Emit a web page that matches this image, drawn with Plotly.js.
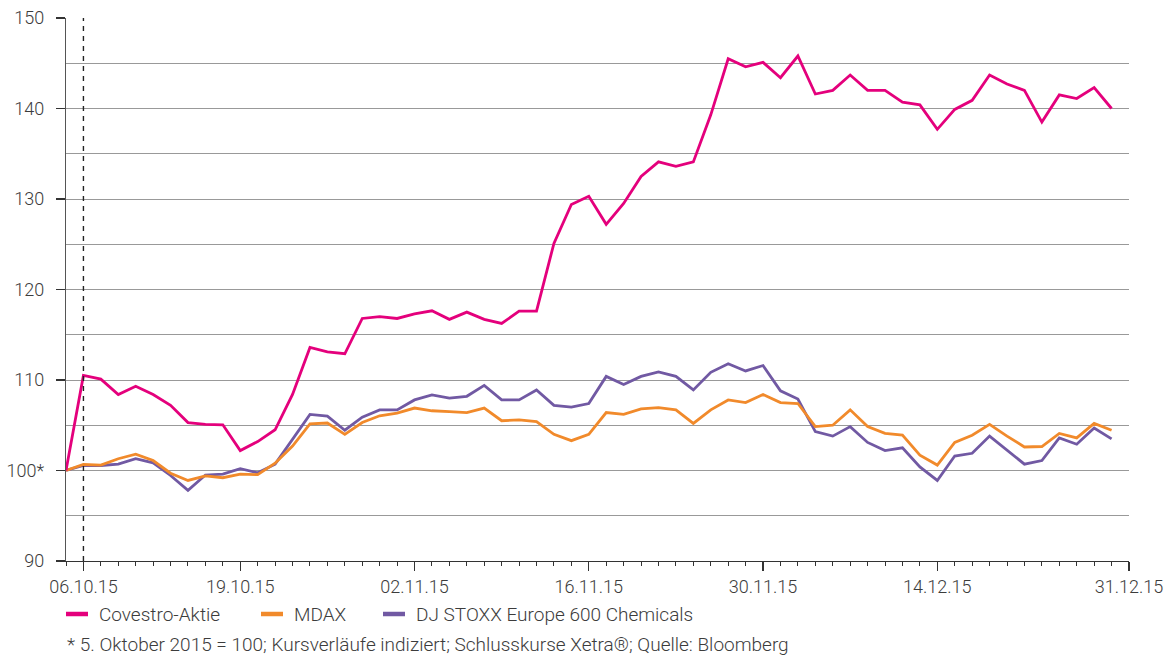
<!DOCTYPE html>
<html>
<head>
<meta charset="utf-8">
<script src="https://cdn.plot.ly/plotly-3.0.1.min.js"></script>
<style>
html,body{margin:0;padding:0;background:#fff;}
#chart{width:1167px;height:657px;}
</style>
</head>
<body>
<div id="chart"></div>
<script>
// Trading days (Xetra), 05.10.15 = 100; last category 31.12.15 has no quote
const dates = [
  '05.10.15','06.10.15','07.10.15','08.10.15','09.10.15','12.10.15','13.10.15','14.10.15','15.10.15','16.10.15',
  '19.10.15','20.10.15','21.10.15','22.10.15','23.10.15','26.10.15','27.10.15','28.10.15','29.10.15','30.10.15',
  '02.11.15','03.11.15','04.11.15','05.11.15','06.11.15','09.11.15','10.11.15','11.11.15','12.11.15','13.11.15',
  '16.11.15','17.11.15','18.11.15','19.11.15','20.11.15','23.11.15','24.11.15','25.11.15','26.11.15','27.11.15',
  '30.11.15','01.12.15','02.12.15','03.12.15','04.12.15','07.12.15','08.12.15','09.12.15','10.12.15','11.12.15',
  '14.12.15','15.12.15','16.12.15','17.12.15','18.12.15','21.12.15','22.12.15','23.12.15','28.12.15','29.12.15',
  '30.12.15','31.12.15'
];

const covestro = [
  100, 110.5, 110.1, 108.4, 109.3, 108.4, 107.2, 105.3, 105.1, 105.05,
  102.2, 103.2, 104.5, 108.4, 113.6, 113.1, 112.9, 116.8, 117.0, 116.8,
  117.3, 117.65, 116.7, 117.5, 116.7, 116.25, 117.6, 117.6, 125.1, 129.4,
  130.3, 127.2, 129.5, 132.5, 134.1, 133.6, 134.1, 139.3, 145.5, 144.6,
  145.1, 143.4, 145.8, 141.6, 142.0, 143.7, 142.0, 142.0, 140.7, 140.4,
  137.7, 139.9, 140.9, 143.7, 142.7, 142.0, 138.5, 141.5, 141.1, 142.3, 140.0
];

const mdax = [
  100, 100.66, 100.6, 101.3, 101.8, 101.1, 99.7, 98.9, 99.4, 99.2,
  99.6, 99.55, 100.8, 102.7, 105.15, 105.25, 104.0, 105.3, 106.05, 106.35,
  106.9, 106.6, 106.5, 106.4, 106.9, 105.5, 105.6, 105.4, 104.0, 103.3,
  104.0, 106.4, 106.2, 106.8, 106.95, 106.7, 105.2, 106.7, 107.8, 107.5,
  108.4, 107.5, 107.4, 104.85, 105.0, 106.7, 104.85, 104.1, 103.9, 101.7,
  100.6, 103.1, 103.9, 105.1, 103.8, 102.6, 102.65, 104.1, 103.6, 105.2, 104.45
];

const djStoxx = [
  100, 100.55, 100.55, 100.7, 101.3, 100.85, 99.45, 97.8, 99.5, 99.6,
  100.2, 99.75, 100.7, 103.4, 106.2, 106.0, 104.45, 105.9, 106.7, 106.7,
  107.8, 108.35, 108.0, 108.2, 109.4, 107.8, 107.8, 108.9, 107.2, 107.0,
  107.4, 110.4, 109.5, 110.4, 110.9, 110.4, 108.9, 110.85, 111.8, 111.0,
  111.6, 108.8, 107.9, 104.3, 103.8, 104.85, 103.1, 102.2, 102.5, 100.4,
  98.9, 101.6, 101.9, 103.8, 102.3, 100.7, 101.1, 103.6, 102.9, 104.7, 103.5
];

const xTickLabels = ['06.10.15','19.10.15','02.11.15','16.11.15','30.11.15','14.12.15','31.12.15'];
const yTickValues = [90, 100, 110, 120, 130, 140, 150];
const yTickLabels = ['90', '100*', '110', '120', '130', '140', '150'];
const seriesNames = ['Covestro-Aktie', 'MDAX', 'DJ STOXX Europe 600 Chemicals'];
const markerDate = '06.10.15';
const footnote = '* 5. Oktober 2015 = 100; Kursverläufe indiziert; Schlusskurse Xetra®; Quelle: Bloomberg';

const colors = ['#E4007C', '#F18A2B', '#7159A3'];
const textColor = '#3c3c3c';
const fam = 'Roboto, "Liberation Sans", sans-serif';
const tickFont = {family: fam, size: 18, color: textColor, weight: 300};
const legendFont = {family: fam, size: 19, color: textColor, weight: 300};

function idx(arr) { return arr.map((_, i) => i); }

const seriesValues = [covestro, mdax, djStoxx];
// draw purple first, then orange, then pink on top
const drawOrder = [2, 1, 0];
const traces = drawOrder.map(k => ({
  x: idx(seriesValues[k]), y: seriesValues[k], name: seriesNames[k],
  type: 'scatter', mode: 'lines', showlegend: false,
  line: {color: colors[k], width: 2.8}, hoverinfo: 'skip'
}));

// Legend layout (pixel positions of marker starts within the figure)
const plotL = 66, plotW = 1167 - 66 - 38, plotT = 18, plotH = 657 - 18 - 96;
const legendStartPx = [66, 261, 383];
const legendYpx = 614;
const toPaperX = px => (px - plotL) / plotW;
const toPaperY = py => (plotT + plotH - py) / plotH;

const legendShapes = seriesNames.map((n, k) => ({
  type: 'line', xref: 'paper', yref: 'paper',
  x0: toPaperX(legendStartPx[k]), x1: toPaperX(legendStartPx[k] + 22),
  y0: toPaperY(legendYpx), y1: toPaperY(legendYpx),
  line: {color: colors[k], width: 4.5}
}));
const legendTexts = seriesNames.map((n, k) => ({
  xref: 'paper', yref: 'paper', x: toPaperX(legendStartPx[k] + 31), y: toPaperY(legendYpx),
  xanchor: 'left', yanchor: 'middle', showarrow: false, text: n, font: legendFont
}));

const layout = {
  width: 1167, height: 657,
  margin: {l: 66, r: 38, t: 18, b: 96},
  paper_bgcolor: '#fff', plot_bgcolor: '#fff',
  font: tickFont,
  showlegend: false,
  xaxis: {
    range: [0, dates.length - 1],
    tickmode: 'array',
    tickvals: xTickLabels.map(d => dates.indexOf(d)),
    ticktext: xTickLabels,
    ticks: 'outside', ticklen: 9, tickwidth: 1.2, tickcolor: '#333',
    minor: {tickmode: 'linear', tick0: 0, dtick: 1, ticks: 'outside', ticklen: 4, tickwidth: 1, tickcolor: '#333', showgrid: false},
    showgrid: false, zeroline: false,
    showline: true, linecolor: '#333', linewidth: 1.2,
    tickfont: tickFont,
    fixedrange: true
  },
  yaxis: {
    range: [90, 150],
    tickmode: 'array', tickvals: yTickValues, ticktext: yTickLabels,
    ticks: 'outside', ticklen: 9, tickwidth: 1.2, tickcolor: '#333',
    ticklabelstandoff: 8,
    showgrid: true, gridcolor: '#999', gridwidth: 1,
    minor: {dtick: 5, tick0: 90, showgrid: true, gridcolor: '#999', gridwidth: 1, ticks: ''},
    zeroline: false,
    showline: true, linecolor: '#555', linewidth: 1.2,
    tickfont: tickFont,
    fixedrange: true
  },
  shapes: [
    {type: 'line', xref: 'x', yref: 'paper', x0: dates.indexOf(markerDate), x1: dates.indexOf(markerDate), y0: 0, y1: 1,
     line: {color: '#222', width: 1.4, dash: '5px,5px'}, layer: 'above'}
  ].concat(legendShapes),
  annotations: legendTexts.concat([
    {xref: 'paper', yref: 'paper', x: 0, y: toPaperY(644), xanchor: 'left', yanchor: 'middle', showarrow: false,
     borderpad: 0, text: footnote, font: legendFont}
  ])
};

Plotly.newPlot('chart', traces, layout, {displayModeBar: false, staticPlot: true});
</script>
</body>
</html>
